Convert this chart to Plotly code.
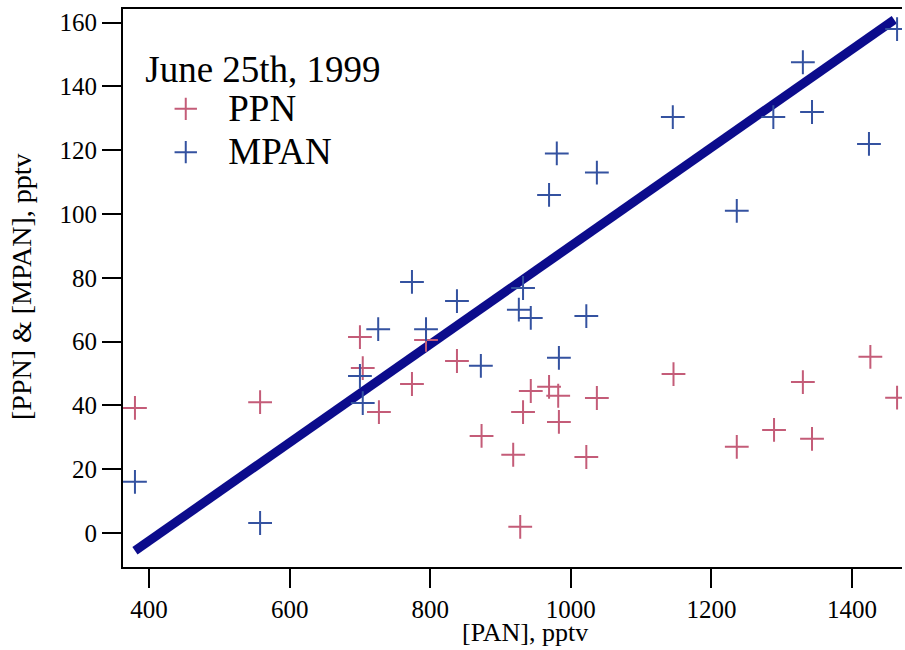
import plotly.graph_objects as go

# PAN values (pptv) for each series
ppn_pan = [380, 558, 700, 704, 727, 774, 794, 838, 873, 918, 928, 932, 943,
           969, 982, 983, 1022, 1037, 1146, 1236, 1289, 1330, 1343, 1426, 1464]
ppn_val = [39.2, 41.0, 61.4, 51.7, 37.9, 46.7, 60.5, 53.9, 30.4, 24.5, 1.9, 37.9, 44.5,
           45.8, 43.0, 34.8, 23.8, 42.3, 49.8, 27.0, 32.3, 47.3, 29.5, 55.2, 42.4]

mpan_pan = [380, 558, 700, 704, 726, 774, 794, 838, 872, 926, 932, 943,
            969, 980, 983, 1022, 1037, 1145, 1236, 1288, 1330, 1343, 1424, 1464]
mpan_val = [16.0, 3.1, 49.2, 40.7, 63.9, 78.7, 63.9, 72.7, 52.4, 70.0, 76.8, 67.4,
            106.0, 119.0, 54.9, 68.0, 113.0, 130.4, 101.0, 130.4, 147.6, 132.0, 122.0, 158.0]

# Linear fit of MPAN vs PAN
fit_slope = 0.1542
fit_intercept = -64.2
fit_pan = [380, 1460]
fit_val = [fit_slope * p + fit_intercept for p in fit_pan]

x_ticks = [400, 600, 800, 1000, 1200, 1400]
y_ticks = [0, 20, 40, 60, 80, 100, 120, 140, 160]

FONT = "Liberation Serif"
RED = "rgb(196,92,120)"
BLUE = "rgb(52,82,160)"
NAVY = "rgb(12,12,140)"

fig = go.Figure()
fig.add_trace(go.Scatter(
    x=fit_pan, y=fit_val, mode="lines", showlegend=False,
    line=dict(color=NAVY, width=9), hoverinfo="skip"))
fig.add_trace(go.Scatter(
    x=ppn_pan, y=ppn_val, mode="markers",
    name='<span style="font-size:37px">PPN</span>',
    marker=dict(symbol="cross-thin", size=17, color=RED,
                line=dict(color=RED, width=2))))
fig.add_trace(go.Scatter(
    x=mpan_pan, y=mpan_val, mode="markers",
    name='<span style="font-size:37px">MPAN</span>',
    marker=dict(symbol="cross-thin", size=17, color=BLUE,
                line=dict(color=BLUE, width=2))))

axis_common = dict(
    showgrid=False, zeroline=False, showline=True, linecolor="black", linewidth=2,
    ticks="outside", ticklen=19, tickwidth=2, tickcolor="black",
    tickfont=dict(family=FONT, size=25, color="black"))

fig.update_xaxes(range=[363, 1471], tickvals=x_ticks, mirror=True, **axis_common)
fig.update_yaxes(range=[-10.7, 164.3], tickvals=y_ticks, **axis_common)

plot_w = 905 - 123 - 3
plot_h = 650 - 9 - 83

fig.update_layout(
    width=905, height=650,
    margin=dict(l=123, r=3, t=9, b=83),
    paper_bgcolor="white", plot_bgcolor="white",
    font=dict(family=FONT, color="black"),
    legend=dict(
        x=0.026, y=0.955, xanchor="left", yanchor="top",
        bgcolor="rgba(0,0,0,0)", itemwidth=75,
        title=dict(text="June 25th, 1999", font=dict(family=FONT, size=37, color="black")),
        font=dict(family=FONT, size=31, color="black"),
        tracegroupgap=0),
    annotations=[
        dict(text="[PAN], pptv", x=(525 - 123) / plot_w, y=1 - (633 - 9) / plot_h,
             xref="paper", yref="paper", showarrow=False,
             xanchor="center", yanchor="middle",
             font=dict(family=FONT, size=26, color="black")),
        dict(text="[PPN] & [MPAN], pptv", x=(22 - 123) / plot_w, y=1 - (287 - 9) / plot_h,
             xref="paper", yref="paper", showarrow=False, textangle=-90,
             xanchor="center", yanchor="middle",
             font=dict(family=FONT, size=28, color="black")),
    ],
)

fig.write_html("out.html")
